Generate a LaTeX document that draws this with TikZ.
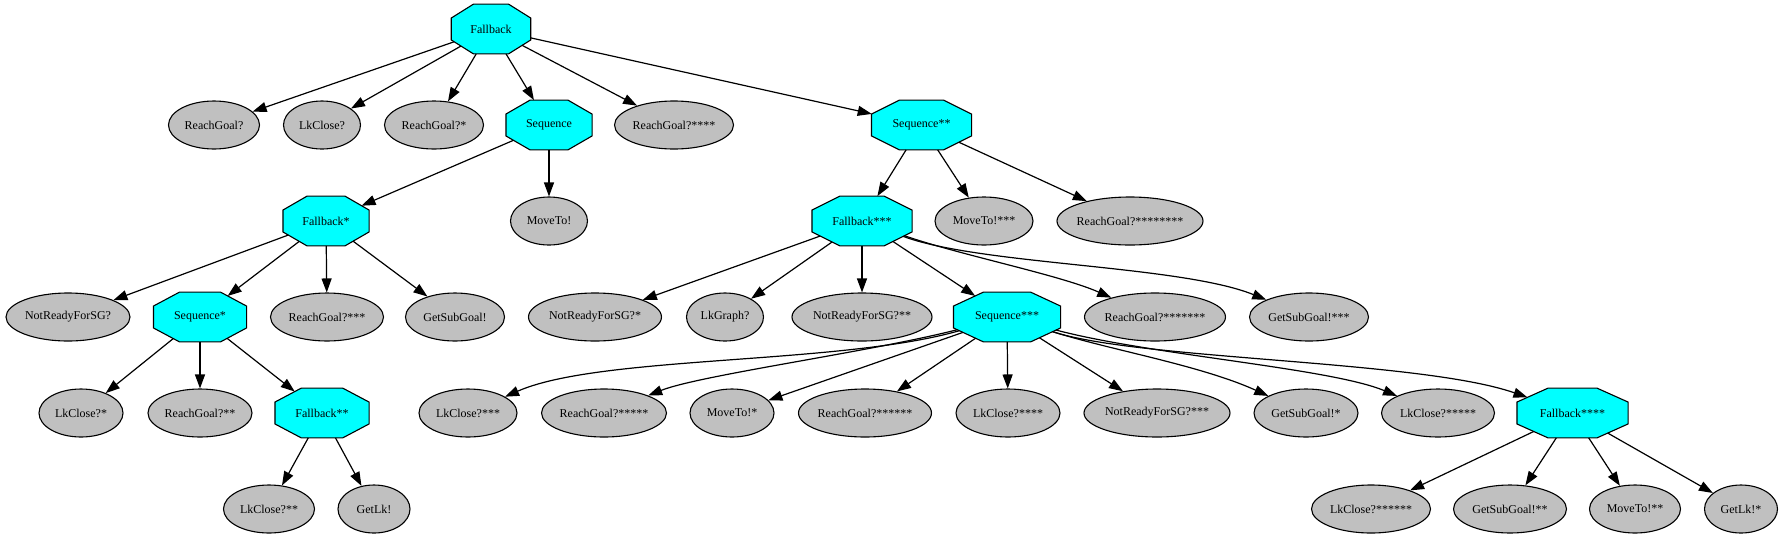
\documentclass[tikz,border=0pt]{standalone}
\usepackage{fontspec}
\setmainfont{Liberation Serif}
\usetikzlibrary{arrows.meta,shapes.geometric}
\makeatletter
\pgfdeclareshape{octo}{%
  \inheritsavedanchors[from=rectangle]%
  \inheritanchor[from=rectangle]{center}%
  \inheritanchor[from=rectangle]{north}%
  \inheritanchor[from=rectangle]{south}%
  \inheritanchor[from=rectangle]{east}%
  \inheritanchor[from=rectangle]{west}%
  \backgroundpath{%
    \southwest \edef\octxa{\the\pgf@x}\edef\octya{\the\pgf@y}%
    \northeast \edef\octxb{\the\pgf@x}\edef\octyb{\the\pgf@y}%
    \pgf@xc=\dimexpr\octxb-\octxa\relax \pgf@xc=0.28\pgf@xc
    \pgf@yc=\dimexpr\octyb-\octya\relax \pgf@yc=0.28\pgf@yc
    \edef\octcx{\the\pgf@xc}\edef\octcy{\the\pgf@yc}%
    \pgfpathmoveto{\pgfqpoint{\dimexpr\octxa+\octcx\relax}{\octya}}%
    \pgfpathlineto{\pgfqpoint{\dimexpr\octxb-\octcx\relax}{\octya}}%
    \pgfpathlineto{\pgfqpoint{\octxb}{\dimexpr\octya+\octcy\relax}}%
    \pgfpathlineto{\pgfqpoint{\octxb}{\dimexpr\octyb-\octcy\relax}}%
    \pgfpathlineto{\pgfqpoint{\dimexpr\octxb-\octcx\relax}{\octyb}}%
    \pgfpathlineto{\pgfqpoint{\dimexpr\octxa+\octcx\relax}{\octyb}}%
    \pgfpathlineto{\pgfqpoint{\octxa}{\dimexpr\octyb-\octcy\relax}}%
    \pgfpathlineto{\pgfqpoint{\octxa}{\dimexpr\octya+\octcy\relax}}%
    \pgfpathclose
  }%
  \anchorborder{%
    \edef\octdx{\pgf@sys@tonumber\pgf@x}\edef\octdy{\pgf@sys@tonumber\pgf@y}%
    \southwest \edef\octxa{\pgf@sys@tonumber\pgf@x}\edef\octya{\pgf@sys@tonumber\pgf@y}%
    \northeast \edef\octxb{\pgf@sys@tonumber\pgf@x}\edef\octyb{\pgf@sys@tonumber\pgf@y}%
    \pgfmathsetmacro\octa{max((\octxb-\octxa)/2,0.01)}%
    \pgfmathsetmacro\octb{max((\octyb-\octya)/2,0.01)}%
    \pgfmathsetmacro\octp{abs(\octdx)/\octa}%
    \pgfmathsetmacro\octq{abs(\octdy)/\octb}%
    \pgfmathsetmacro\octm{max(\octp,\octq,(\octp+\octq)/1.44,0.0001)}%
    \pgfmathsetmacro\octrx{(\octxa+\octxb)/2+\octdx/\octm}%
    \pgfmathsetmacro\octry{(\octya+\octyb)/2+\octdy/\octm}%
    \pgf@x=\octrx pt\relax
    \pgf@y=\octry pt\relax
  }%
}
\makeatother
\newcommand\nlab[1]{\makebox[0pt][c]{#1}}
\definecolor{leafgray}{RGB}{192,192,192}
\definecolor{ctrlcyan}{RGB}{0,255,255}
\tikzset{
  leaf/.style={shape=ellipse, draw=black, fill=leafgray, line width=1.1pt,
    inner sep=0pt, minimum height=48pt, minimum width=#1,
    font=\fontsize{12}{14}\selectfont},
  ctrl/.style={shape=octo, draw=black, fill=ctrlcyan, line width=1.1pt,
    inner sep=0pt, minimum height=48.7pt, minimum width=#1,
    font=\fontsize{12}{14}\selectfont},
  edge/.style={draw=black, line width=1.2pt, -{Triangle[length=14pt,width=10pt]}}
}
\begin{document}
\begin{tikzpicture}[x=1pt,y=-1pt]
\useasboundingbox (0,0) rectangle (1783,539);
% level 0
\node[ctrl=78.4pt] (fb) at (491,29) {\nlab{Fallback}};
% level 1
\node[leaf=91pt] (rg) at (214,125) {\nlab{ReachGoal?}};
\node[leaf=77pt] (lk) at (322,125) {\nlab{LkClose?}};
\node[leaf=99pt] (rg1) at (434,125) {\nlab{ReachGoal?*}};
\node[ctrl=85pt] (seq) at (549,125) {\nlab{Sequence}};
\node[leaf=119pt] (rg4) at (674,125) {\nlab{ReachGoal?****}};
\node[ctrl=99pt] (seq2) at (921.5,125) {\nlab{Sequence**}};
% level 2
\node[ctrl=85pt] (fb1) at (326,221) {\nlab{Fallback*}};
\node[leaf=77pt] (mv) at (549,221) {\nlab{MoveTo!}};
\node[ctrl=99pt] (fb3) at (862,221) {\nlab{Fallback***}};
\node[leaf=98pt] (mv3) at (984,221) {\nlab{MoveTo!***}};
\node[leaf=146pt] (rg8) at (1130,221) {\nlab{ReachGoal?********}};
% level 3
\node[leaf=124pt] (nr) at (68,317) {\nlab{NotReadyForSG?}};
\node[ctrl=92pt] (seq1) at (200,317) {\nlab{Sequence*}};
\node[leaf=113pt] (rg3) at (327,317) {\nlab{ReachGoal?***}};
\node[leaf=99pt] (gs) at (455,317) {\nlab{GetSubGoal!}};
\node[leaf=133pt] (nr1) at (595,317) {\nlab{NotReadyForSG?*}};
\node[leaf=77pt] (lkg) at (725,317) {\nlab{LkGraph?}};
\node[leaf=140pt] (nr2) at (862,317) {\nlab{NotReadyForSG?**}};
\node[ctrl=106pt] (seq3) at (1007,317) {\nlab{Sequence***}};
\node[leaf=141pt] (rg7) at (1155,317) {\nlab{ReachGoal?*******}};
\node[leaf=119pt] (gs3) at (1309,317) {\nlab{GetSubGoal!***}};
% level 4
\node[leaf=84pt] (lk1) at (81,413) {\nlab{LkClose?*}};
\node[leaf=104pt] (rg2) at (200,413) {\nlab{ReachGoal?**}};
\node[ctrl=93pt] (fb2) at (322,413) {\nlab{Fallback**}};
\node[leaf=98pt] (lk3) at (468,413) {\nlab{LkClose?***}};
\node[leaf=125pt] (rg5) at (604,413) {\nlab{ReachGoal?*****}};
\node[leaf=84pt] (mv1) at (732,413) {\nlab{MoveTo!*}};
\node[leaf=133pt] (rg6) at (865,413) {\nlab{ReachGoal?******}};
\node[leaf=104pt] (lk4) at (1008,413) {\nlab{LkClose?****}};
\node[leaf=146pt] (nr3) at (1157,413) {\nlab{NotReadyForSG?***}};
\node[leaf=104pt] (gs1) at (1306,413) {\nlab{GetSubGoal!*}};
\node[leaf=113pt] (lk5) at (1438,413) {\nlab{LkClose?*****}};
\node[ctrl=110pt] (fb4) at (1572.5,413) {\nlab{Fallback****}};
% level 5
\node[leaf=91pt] (lk2) at (269,509) {\nlab{LkClose?**}};
\node[leaf=72pt] (gl) at (374,509) {\nlab{GetLk!}};
\node[leaf=119pt] (lk6) at (1371,509) {\nlab{LkClose?******}};
\node[leaf=113pt] (gs2) at (1510,509) {\nlab{GetSubGoal!**}};
\node[leaf=91pt] (mv2) at (1635,509) {\nlab{MoveTo!**}};
\node[leaf=73pt] (gl1) at (1741,509) {\nlab{GetLk!*}};
% edges
\foreach \c in {rg,lk,rg1,seq,rg4,seq2} \draw[edge] (fb) -- (\c);
\foreach \c in {fb1,mv} \draw[edge] (seq) -- (\c);
\foreach \c in {nr,seq1,rg3,gs} \draw[edge] (fb1) -- (\c);
\foreach \c in {lk1,rg2,fb2} \draw[edge] (seq1) -- (\c);
\foreach \c in {lk2,gl} \draw[edge] (fb2) -- (\c);
\foreach \c in {fb3,mv3,rg8} \draw[edge] (seq2) -- (\c);
\foreach \c in {nr1,lkg,nr2,seq3} \draw[edge] (fb3) -- (\c);
\draw[edge] (fb3) .. controls (960,255) and (1060,275) .. (rg7);
\draw[edge] (fb3) .. controls (980,265) and (1180,265) .. (gs3);
\draw[edge] (seq3) .. controls (840,365) and (600,355) .. (lk3);
\draw[edge] (seq3) .. controls (870,352) and (700,375) .. (rg5);
\foreach \c in {mv1,rg6,lk4,nr3} \draw[edge] (seq3) -- (\c);
\draw[edge] (seq3) .. controls (1110,350) and (1200,365) .. (gs1);
\draw[edge] (seq3) .. controls (1150,355) and (1330,368) .. (lk5);
\draw[edge] (seq3) .. controls (1140,360) and (1420,360) .. (fb4);
\foreach \c in {lk6,gs2,mv2,gl1} \draw[edge] (fb4) -- (\c);
\end{tikzpicture}
\end{document}
